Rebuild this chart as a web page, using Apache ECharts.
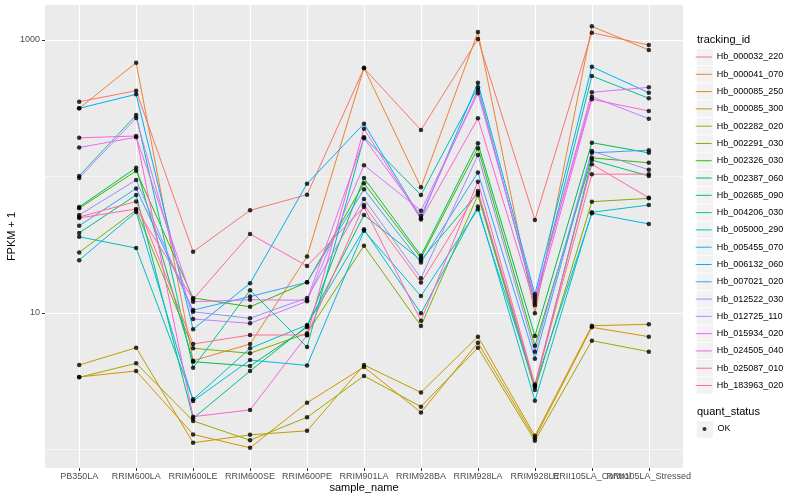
<!DOCTYPE html>
<html><head><meta charset="utf-8">
<script src="https://cdn.jsdelivr.net/npm/echarts@6/dist/echarts.min.js"></script>
<style>html,body{margin:0;padding:0;background:#fff}#c{width:800px;height:500px}</style>
</head><body><div id="c"></div>
<script>
// ---- data ----
const samples = ['PB350LA','RRIM600LA','RRIM600LE','RRIM600SE','RRIM600PE','RRIM901LA','RRIM928BA','RRIM928LA','RRIM928LE','RRII105LA_Control','RRII105LA_Stressed'];
const trackingIds = ['Hb_000032_220','Hb_000041_070','Hb_000085_250','Hb_000085_300','Hb_002282_020','Hb_002291_030','Hb_002326_030','Hb_002387_060','Hb_002685_090','Hb_004206_030','Hb_005000_290','Hb_005455_070','Hb_006132_060','Hb_007021_020','Hb_012522_030','Hb_012725_110','Hb_015934_020','Hb_024505_040','Hb_025087_010','Hb_183963_020'];
const palette = ['#F8766D','#EA8331','#D89000','#C09B00','#A3A500','#7CAE00','#39B600','#00BB4E','#00BF7D','#00C1A3','#00BFC4','#00BAE0','#00B0F6','#35A2FF','#9590FF','#C77CFF','#E76BF3','#FA62DB','#FF62BC','#FF6C90'];
const quantStatus = ['OK'];
const yMajorTicks = [10, 1000];
const yMinorTicks = [1, 100];

const Hb_000032_220 = [353, 425, 28.1, 56.5, 73.6, 620, 219, 1017, 48, 1131, 919];
const Hb_000041_070 = [316, 682, 4.47, 5.93, 25.9, 625, 83.3, 1144, 9.95, 1260, 845];
const Hb_000085_250 = [3.40, 3.76, 1.29, 1.03, 2.20, 4.02, 1.87, 6.06, 1.21, 7.86, 6.71];
const Hb_000085_300 = [4.16, 5.57, 1.12, 1.28, 1.37, 4.16, 2.62, 6.71, 1.26, 8.07, 8.26];
const Hb_002282_020 = [3.38, 4.28, 1.62, 1.17, 1.72, 3.46, 2.06, 5.57, 1.16, 6.27, 5.21];
const Hb_002291_030 = [27.8, 56.8, 5.51, 5.07, 7.10, 31.1, 8.03, 73.2, 2.73, 65.4, 69.2];
const Hb_002326_030 = [58.5, 110, 12.9, 11.1, 16.8, 89.2, 25.3, 161, 5.76, 137, 126];
const Hb_002387_060 = [59.8, 116, 4.40, 4.09, 7.86, 97.5, 26.3, 175, 6.79, 177, 149];
const Hb_002685_090 = [38.6, 73.2, 1.69, 3.76, 8.03, 52.2, 24.4, 75.7, 2.87, 132, 101];
const Hb_004206_030 = [101, 282, 3.97, 14.7, 5.63, 194, 73.2, 450, 11.9, 545, 374];
const Hb_005000_290 = [36.2, 29.9, 2.33, 5.51, 8.17, 41.0, 9.95, 60.3, 2.28, 54.7, 61.8];
const Hb_005455_070 = [24.4, 54.9, 2.27, 4.52, 4.13, 40.0, 13.3, 57.5, 2.92, 53.8, 44.9];
const Hb_006132_060 = [316, 400, 7.60, 16.5, 88.6, 244, 49.4, 487, 13.7, 637, 411];
const Hb_007021_020 = [43.6, 81.7, 10.5, 13.2, 16.8, 80.6, 23.4, 107, 4.63, 149, 156];
const Hb_012522_030 = [52.2, 94.3, 10.2, 9.15, 12.9, 68.4, 18.0, 144, 5.21, 154, 112];
const Hb_012725_110 = [97.5, 268, 9.04, 8.40, 12.2, 121, 56.2, 407, 13.1, 384, 265];
const Hb_015934_020 = [163, 194, 12.1, 12.5, 12.4, 191, 51.6, 430, 12.5, 414, 450];
const Hb_024505_040 = [192, 198, 1.74, 1.95, 6.86, 224, 48.5, 267, 11.4, 368, 302];
const Hb_025087_010 = [49.7, 57.8, 12.6, 37.9, 22.1, 59.8, 8.78, 91.6, 3.00, 123, 69.9];
const Hb_183963_020 = [50.5, 65.6, 5.93, 6.9, 6.9, 61.8, 16.7, 78.3, 2.94, 104, 104];

const seriesValues = [Hb_000032_220, Hb_000041_070, Hb_000085_250, Hb_000085_300, Hb_002282_020, Hb_002291_030, Hb_002326_030, Hb_002387_060, Hb_002685_090, Hb_004206_030, Hb_005000_290, Hb_005455_070, Hb_006132_060, Hb_007021_020, Hb_012522_030, Hb_012725_110, Hb_015934_020, Hb_024505_040, Hb_025087_010, Hb_183963_020];

// ---- chart ----
const FONT = '"Liberation Sans", Arial, sans-serif';
const catIdx = samples.map((s, i) => i);
const evenIdx = catIdx.filter(i => i % 2 === 0);
const oddIdx = catIdx.filter(i => i % 2 === 1);

const lineSeries = trackingIds.map((id, i) => ({
  name: id, type: 'line', xAxisIndex: 0, yAxisIndex: 0,
  data: seriesValues[i].map((v, j) => [j, v]),
  symbol: 'none', showSymbol: false,
  lineStyle: { color: palette[i], width: 1 },
  itemStyle: { color: palette[i] },
  emphasis: { disabled: true }, silent: true, z: 2
}));
const points = [];
seriesValues.forEach(arr => arr.forEach((v, j) => points.push([j, v])));
const pointSeries = {
  name: quantStatus[0], type: 'scatter', xAxisIndex: 0, yAxisIndex: 0,
  data: points, symbol: 'circle', symbolSize: 4.5,
  itemStyle: { color: '#000000' }, emphasis: { disabled: true }, silent: true, z: 3
};

// legend layout (pixels)
const LEG_LEFT = 696.7, LEG_STEP = 17.29, LEG_FIRST_CENTER = 57;
const graphics = [];
trackingIds.forEach((id, i) => graphics.push({
  type: 'rect', silent: true, z: 0,
  shape: { x: LEG_LEFT, y: LEG_FIRST_CENTER - 8.2 + i * LEG_STEP, width: 16.4, height: 16.4 },
  style: { fill: '#f2f2f2' }
}));
graphics.push({ type: 'rect', silent: true, z: 0, shape: { x: LEG_LEFT, y: 421.3, width: 16.4, height: 16.4 }, style: { fill: '#f2f2f2' } });
graphics.push({ type: 'text', silent: true, style: { x: 697, y: 40, text: 'tracking_id', font: '11px ' + FONT, fill: '#000', verticalAlign: 'middle' } });
graphics.push({ type: 'text', silent: true, style: { x: 697, y: 411.7, text: 'quant_status', font: '11px ' + FONT, fill: '#000', verticalAlign: 'middle' } });

const lineIcon = 'path://M0,0H32V2H0Z';
const xLabelStyle = { formatter: v => samples[Math.round(v)], color: '#4d4d4d', fontSize: 9, margin: 4.5, fontFamily: FONT, hideOverlap: false, showMinLabel: true, showMaxLabel: true };

const chart = echarts.init(document.getElementById('c'), null, { renderer: 'canvas' });
chart.setOption({
  animation: false,
  backgroundColor: '#ffffff',
  textStyle: { fontFamily: FONT },
  grid: { left: 45, right: 117, top: 5, bottom: 32, show: true, backgroundColor: '#ebebeb', borderWidth: 0, containLabel: false, outerBoundsMode: 'none' },
  xAxis: [{
    type: 'value', min: -0.6, max: 10.6, position: 'bottom',
    axisLine: { show: false, onZero: false },
    axisTick: { show: true, length: 3, lineStyle: { color: '#333333', width: 1 }, customValues: catIdx },
    axisLabel: Object.assign({ customValues: evenIdx }, xLabelStyle),
    splitLine: { show: true, lineStyle: { color: '#ffffff', width: 1.1 } },
    name: 'sample_name', nameLocation: 'middle', nameGap: 14.5, nameMoveOverlap: false,
    nameTextStyle: { fontSize: 11, color: '#000000', fontFamily: FONT }
  }, {
    type: 'value', min: -0.6, max: 10.6, position: 'bottom', offset: 0,
    axisLine: { show: false, onZero: false },
    axisTick: { show: false, customValues: oddIdx },
    axisLabel: Object.assign({ customValues: oddIdx }, xLabelStyle),
    splitLine: { show: false }
  }],
  yAxis: [{
    type: 'log', logBase: 10, min: 0.732, max: 1805,
    axisLine: { show: false, onZero: false },
    axisTick: { show: true, length: 3, lineStyle: { color: '#333333', width: 1 }, customValues: yMajorTicks },
    axisLabel: { customValues: yMajorTicks, formatter: v => String(Math.round(v)), color: '#4d4d4d', fontSize: 9, margin: 5, fontFamily: FONT, showMinLabel: true, showMaxLabel: true },
    splitLine: { show: true, lineStyle: { color: '#ffffff', width: 1.1 } },
    name: 'FPKM + 1', nameLocation: 'middle', nameGap: 27.5, nameRotate: 90, nameMoveOverlap: false,
    nameTextStyle: { fontSize: 11, color: '#000000', fontFamily: FONT }
  }, {
    type: 'log', logBase: 10, min: 0.732, max: 1805, position: 'left',
    axisLine: { show: false, onZero: false },
    axisTick: { show: false, customValues: yMinorTicks },
    axisLabel: { show: false, customValues: yMinorTicks },
    splitLine: { show: true, lineStyle: { color: '#ffffff', width: 0.55 } }
  }],
  legend: [{
    data: trackingIds.map(n => ({ name: n, icon: lineIcon })),
    orient: 'vertical', left: 695.7, top: LEG_FIRST_CENTER - LEG_STEP / 2, padding: 0,
    itemWidth: 16, itemHeight: 17, itemGap: 0, selectedMode: false,
    textStyle: { fontSize: 9, color: '#000000', fontFamily: FONT, lineHeight: LEG_STEP }
  }, {
    data: quantStatus, orient: 'vertical', left: 702.5, top: 429 - 8.5, padding: 0,
    itemWidth: 4, itemHeight: 4, selectedMode: false,
    textStyle: { fontSize: 9, color: '#000000', fontFamily: FONT, padding: [0, 0, 0, 6], lineHeight: 17 }
  }],
  graphic: graphics,
  series: [...lineSeries, pointSeries]
});
</script></body></html>
